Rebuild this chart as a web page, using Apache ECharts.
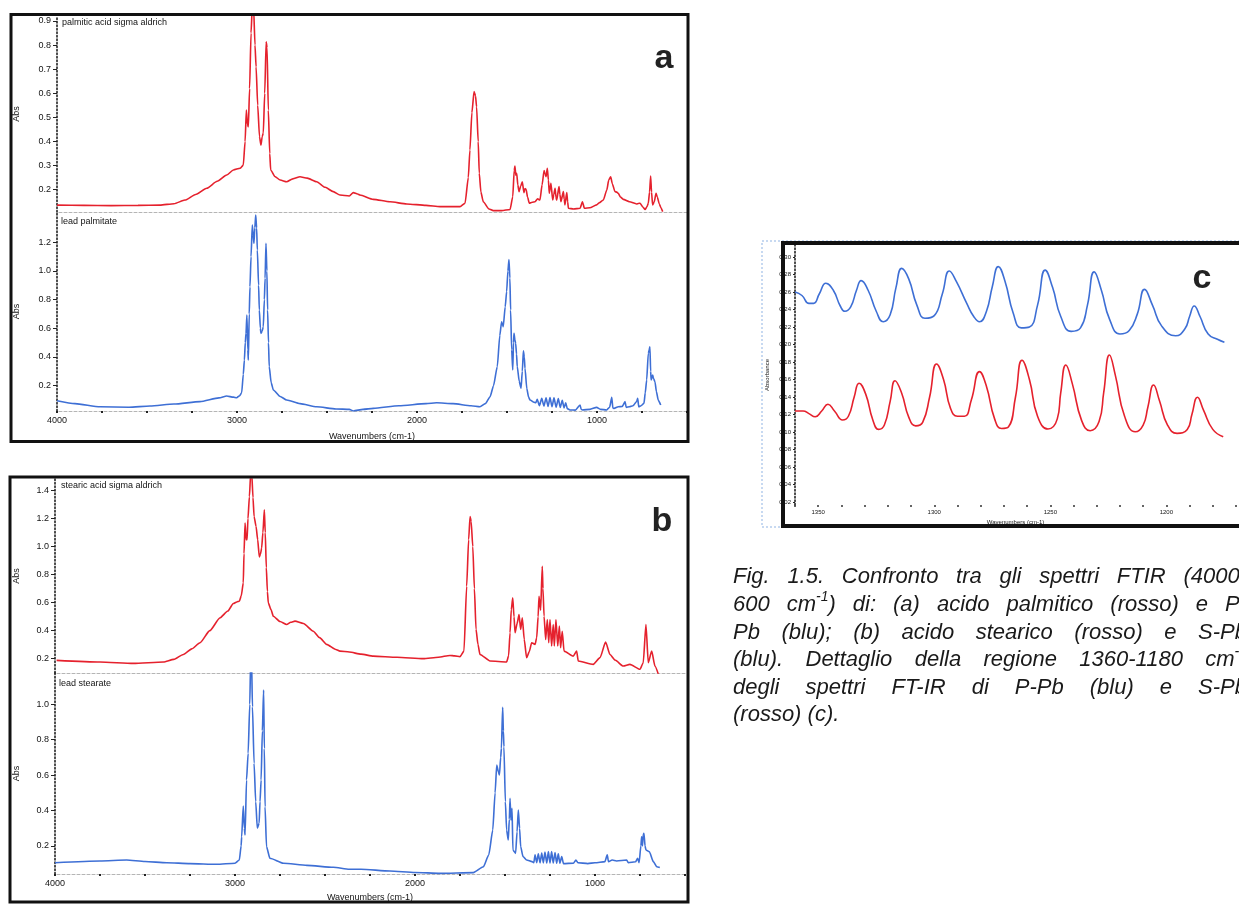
<!DOCTYPE html>
<html><head><meta charset="utf-8">
<script src="https://cdn.jsdelivr.net/npm/echarts@6/dist/echarts.min.js"></script>
<style>html,body{margin:0;padding:0;background:#fff}#chart{width:1239px;height:904px}</style>
</head><body><div id="chart"></div>
<script>
// ---------------- DATA (wavenumber cm-1, absorbance) ----------------
const palmiticAcid = [[4000,0.136],[3850,0.135],[3700,0.134],[3550,0.135],[3428,0.136],[3350,0.142],[3289,0.157],[3230,0.180],[3168,0.206],[3110,0.235],[3057,0.261],[3020,0.282],[2983,0.289],[2965,0.302],[2955,0.400],[2948,0.531],[2942,0.470],[2937,0.461],[2930,0.620],[2922,0.850],[2915,0.960],[2908,0.960],[2900,0.800],[2894,0.710],[2885,0.550],[2875,0.420],[2867,0.385],[2860,0.420],[2854,0.435],[2846,0.600],[2838,0.814],[2833,0.790],[2826,0.530],[2818,0.350],[2813,0.282],[2790,0.255],[2760,0.240],[2724,0.233],[2690,0.245],[2650,0.254],[2610,0.248],[2557,0.233],[2510,0.210],[2465,0.192],[2428,0.178],[2376,0.174],[2354,0.188],[2330,0.182],[2317,0.178],[2243,0.160],[2150,0.150],[2057,0.141],[1950,0.135],[1872,0.130],[1761,0.130],[1733,0.144],[1715,0.250],[1706,0.365],[1695,0.520],[1683,0.607],[1675,0.590],[1669,0.544],[1660,0.400],[1654,0.268],[1645,0.190],[1632,0.150],[1600,0.120],[1576,0.113],[1530,0.113],[1483,0.118],[1468,0.171],[1460,0.280],[1456,0.298],[1451,0.260],[1446,0.268],[1440,0.220],[1433,0.192],[1424,0.215],[1415,0.233],[1406,0.188],[1400,0.205],[1394,0.202],[1386,0.170],[1376,0.144],[1360,0.148],[1344,0.150],[1330,0.162],[1317,0.157],[1305,0.220],[1294,0.279],[1288,0.265],[1283,0.254],[1276,0.289],[1270,0.240],[1265,0.185],[1256,0.227],[1246,0.157],[1240,0.180],[1233,0.206],[1228,0.170],[1224,0.157],[1211,0.213],[1206,0.180],[1200,0.150],[1187,0.192],[1182,0.160],[1178,0.137],[1168,0.188],[1163,0.150],[1159,0.123],[1130,0.120],[1094,0.123],[1081,0.150],[1070,0.123],[1040,0.125],[1002,0.137],[987,0.146],[965,0.157],[945,0.200],[935,0.240],[924,0.254],[915,0.225],[900,0.192],[890,0.190],[882,0.185],[870,0.170],[854,0.160],[820,0.150],[780,0.141],[770,0.143],[761,0.144],[745,0.128],[733,0.118],[722,0.130],[715,0.144],[708,0.190],[702,0.257],[697,0.190],[691,0.137],[682,0.150],[672,0.185],[665,0.170],[654,0.141],[645,0.125],[635,0.109]];

const leadPalmitate = [[4000,0.095],[3900,0.075],[3761,0.053],[3600,0.050],[3483,0.058],[3350,0.072],[3206,0.089],[3100,0.115],[3057,0.128],[3020,0.120],[3002,0.116],[2985,0.130],[2974,0.151],[2965,0.280],[2959,0.379],[2954,0.500],[2950,0.565],[2945,0.693],[2940,0.450],[2937,0.379],[2932,0.700],[2928,0.890],[2922,1.100],[2915,1.320],[2910,1.250],[2906,1.193],[2901,1.300],[2896,1.390],[2891,1.300],[2887,1.146],[2880,0.900],[2876,0.728],[2870,0.600],[2867,0.565],[2860,0.580],[2854,0.611],[2848,0.800],[2844,0.949],[2839,1.193],[2834,1.000],[2830,0.728],[2825,0.500],[2821,0.333],[2810,0.220],[2798,0.170],[2760,0.125],[2724,0.100],[2650,0.075],[2557,0.053],[2450,0.038],[2376,0.035],[2354,0.024],[2300,0.035],[2243,0.042],[2100,0.060],[1950,0.075],[1891,0.081],[1800,0.075],[1700,0.060],[1650,0.053],[1620,0.075],[1594,0.123],[1575,0.200],[1554,0.333],[1540,0.550],[1530,0.646],[1524,0.620],[1521,0.611],[1510,0.750],[1502,0.856],[1495,1.000],[1489,1.080],[1484,0.950],[1480,0.728],[1474,0.450],[1468,0.310],[1464,0.500],[1461,0.565],[1456,0.520],[1452,0.496],[1447,0.420],[1443,0.333],[1432,0.230],[1422,0.182],[1415,0.300],[1409,0.444],[1404,0.400],[1400,0.321],[1390,0.180],[1380,0.120],[1372,0.100],[1350,0.085],[1340,0.081],[1332,0.105],[1320,0.060],[1307,0.112],[1295,0.058],[1283,0.115],[1272,0.055],[1261,0.117],[1250,0.053],[1239,0.115],[1227,0.050],[1215,0.110],[1204,0.048],[1193,0.098],[1183,0.045],[1174,0.080],[1165,0.040],[1150,0.031],[1120,0.030],[1094,0.065],[1088,0.035],[1081,0.031],[1040,0.035],[1002,0.049],[980,0.035],[946,0.031],[930,0.050],[918,0.119],[912,0.045],[905,0.042],[882,0.053],[860,0.055],[844,0.089],[838,0.049],[820,0.053],[800,0.060],[780,0.090],[774,0.112],[768,0.053],[755,0.060],[739,0.077],[732,0.150],[724,0.240],[715,0.426],[710,0.450],[706,0.472],[702,0.300],[699,0.240],[691,0.275],[686,0.250],[678,0.228],[670,0.160],[660,0.100],[646,0.065]];

const stearicAcid = [[3991,0.188],[3750,0.176],[3565,0.166],[3398,0.176],[3340,0.195],[3287,0.230],[3240,0.270],[3194,0.314],[3140,0.400],[3083,0.492],[3040,0.540],[3009,0.594],[2990,0.605],[2976,0.610],[2965,0.650],[2954,0.741],[2950,0.950],[2944,1.168],[2938,1.050],[2933,1.049],[2928,1.200],[2920,1.357],[2913,1.520],[2907,1.520],[2900,1.350],[2894,1.215],[2883,1.144],[2874,1.050],[2865,0.926],[2858,0.950],[2852,0.990],[2845,1.100],[2837,1.263],[2832,1.100],[2826,0.850],[2820,0.680],[2815,0.599],[2800,0.550],[2787,0.503],[2750,0.465],[2713,0.444],[2690,0.460],[2667,0.468],[2620,0.451],[2565,0.396],[2530,0.350],[2491,0.302],[2440,0.265],[2417,0.254],[2365,0.247],[2300,0.232],[2232,0.218],[2100,0.210],[1954,0.200],[1870,0.210],[1806,0.223],[1780,0.220],[1750,0.214],[1728,0.254],[1713,0.717],[1702,1.050],[1694,1.215],[1688,1.180],[1679,1.001],[1670,0.700],[1661,0.409],[1650,0.300],[1639,0.230],[1583,0.183],[1491,0.176],[1480,0.220],[1472,0.385],[1465,0.550],[1457,0.634],[1450,0.500],[1444,0.385],[1433,0.450],[1422,0.515],[1413,0.409],[1404,0.492],[1393,0.337],[1380,0.207],[1365,0.250],[1352,0.314],[1333,0.302],[1324,0.349],[1316,0.500],[1311,0.646],[1302,0.546],[1293,0.859],[1289,0.700],[1283,0.503],[1274,0.337],[1265,0.480],[1257,0.314],[1250,0.480],[1241,0.290],[1232,0.444],[1226,0.290],[1217,0.480],[1207,0.290],[1198,0.432],[1191,0.278],[1182,0.396],[1172,0.254],[1121,0.218],[1102,0.254],[1093,0.183],[1010,0.159],[972,0.207],[941,0.318],[917,0.230],[889,0.190],[843,0.147],[806,0.159],[750,0.124],[732,0.171],[717,0.444],[704,0.171],[685,0.254],[667,0.147],[648,0.088]];

const leadStearate = [[4000,0.105],[3750,0.115],[3602,0.120],[3500,0.112],[3380,0.105],[3250,0.100],[3102,0.096],[3000,0.102],[2976,0.120],[2966,0.200],[2963,0.252],[2954,0.425],[2948,0.300],[2944,0.262],[2936,0.572],[2927,0.723],[2918,1.000],[2913,1.250],[2908,1.250],[2903,0.986],[2894,0.667],[2885,0.450],[2876,0.300],[2866,0.328],[2861,0.450],[2855,0.572],[2848,0.850],[2841,1.080],[2837,0.750],[2833,0.421],[2825,0.196],[2806,0.130],[2731,0.102],[2600,0.090],[2454,0.079],[2365,0.068],[2300,0.068],[2139,0.058],[2000,0.050],[1861,0.045],[1676,0.049],[1620,0.082],[1590,0.150],[1568,0.290],[1555,0.500],[1546,0.657],[1537,0.620],[1531,0.601],[1524,0.700],[1520,0.751],[1513,0.983],[1509,0.850],[1506,0.760],[1498,0.450],[1491,0.290],[1482,0.233],[1476,0.350],[1472,0.469],[1467,0.346],[1461,0.412],[1456,0.177],[1441,0.158],[1433,0.280],[1426,0.403],[1419,0.300],[1413,0.196],[1400,0.140],[1380,0.120],[1350,0.111],[1340,0.105],[1333,0.150],[1324,0.105],[1315,0.155],[1305,0.104],[1296,0.160],[1287,0.104],[1278,0.165],[1268,0.103],[1259,0.168],[1250,0.103],[1241,0.168],[1232,0.103],[1222,0.163],[1213,0.102],[1204,0.155],[1195,0.102],[1185,0.140],[1175,0.100],[1120,0.102],[1106,0.120],[1095,0.105],[1040,0.100],[1000,0.105],[945,0.111],[932,0.149],[925,0.111],[905,0.120],[880,0.115],[824,0.120],[815,0.105],[775,0.110],[763,0.130],[755,0.105],[745,0.200],[741,0.252],[736,0.200],[733,0.260],[728,0.271],[722,0.200],[717,0.177],[698,0.167],[676,0.111],[657,0.082],[640,0.078]];

// panel c : detail 1360-1180 cm-1
const detailPPb = [[1360,0.260],[1357,0.256],[1354,0.247],[1352,0.247],[1349.5,0.258],[1346.7,0.270],[1343.5,0.262],[1340.5,0.244],[1338.5,0.238],[1336,0.243],[1333.5,0.262],[1331.5,0.273],[1328.5,0.262],[1325,0.238],[1322,0.226],[1319,0.234],[1316.5,0.265],[1314,0.287],[1311,0.275],[1307.5,0.245],[1304,0.230],[1300,0.233],[1296.5,0.258],[1293.5,0.284],[1290.5,0.272],[1286,0.247],[1283,0.232],[1280.5,0.226],[1277.5,0.238],[1275,0.266],[1272.4,0.289],[1269.5,0.272],[1266,0.236],[1262.5,0.219],[1259,0.220],[1255.5,0.245],[1252.2,0.285],[1249,0.265],[1245.5,0.232],[1241,0.215],[1237,0.219],[1234,0.245],[1231.1,0.283],[1228,0.262],[1224.5,0.229],[1220,0.212],[1216,0.216],[1212.5,0.235],[1209.4,0.263],[1206,0.245],[1202,0.221],[1196,0.210],[1192,0.218],[1190,0.232],[1188,0.244],[1185.5,0.232],[1182,0.212],[1178,0.206],[1175,0.2025]];
const detailSPb = [[1360,0.124],[1356.5,0.124],[1354,0.121],[1351.3,0.1175],[1348.5,0.124],[1345.8,0.1317],[1343,0.124],[1339.5,0.1137],[1337,0.118],[1334.5,0.140],[1332.4,0.1557],[1329.5,0.143],[1326.5,0.114],[1324,0.103],[1321.5,0.108],[1319,0.135],[1316.9,0.1586],[1314,0.144],[1311,0.117],[1308,0.107],[1305,0.111],[1302,0.140],[1299,0.1777],[1296,0.160],[1293,0.127],[1290,0.118],[1287,0.118],[1284,0.137],[1280.5,0.169],[1277.5,0.152],[1274,0.115],[1271,0.104],[1268,0.106],[1265,0.140],[1262.2,0.182],[1259,0.160],[1255.5,0.118],[1251,0.1034],[1247,0.115],[1245.5,0.145],[1243.3,0.1766],[1240.5,0.155],[1236.5,0.113],[1232.8,0.1015],[1229,0.112],[1227,0.145],[1224.5,0.188],[1222,0.165],[1218,0.118],[1213.4,0.1003],[1210,0.108],[1208,0.128],[1205.5,0.1537],[1203,0.136],[1199.5,0.108],[1195.4,0.0985],[1191,0.103],[1189,0.120],[1186.6,0.1397],[1184,0.125],[1180,0.103],[1175.5,0.0946]];

// tick labels
const ticksAUpper = [0.2,0.3,0.4,0.5,0.6,0.7,0.8,0.9];
const ticksALower = [0.2,0.4,0.6,0.8,1.0,1.2];
const ticksBUpper = [0.2,0.4,0.6,0.8,1.0,1.2,1.4];
const ticksBLower = [0.2,0.4,0.6,0.8,1.0];
const ticksC = [0.02,0.04,0.06,0.08,0.10,0.12,0.14,0.16,0.18,0.20,0.22,0.24,0.26,0.28,0.30];
const wavenumberLabels = [1000,2000,3000,4000];
const detailLabels = [1200,1250,1300,1350];

const seriesNames = ['palmitic acid sigma aldrich','lead palmitate','stearic acid sigma aldrich','lead stearate'];
const captionLines = [
  'Fig. 1.5. Confronto tra gli spettri FTIR (4000-',
  '600 cm^-1^) di: (a) acido palmitico (rosso) e P-',
  'Pb (blu); (b) acido stearico (rosso) e S-Pb',
  '(blu). Dettaglio della regione 1360-1180 cm^-1^',
  'degli spettri FT-IR di P-Pb (blu) e S-Pb',
  '(rosso) (c).'
];

// ---------------- STYLE / LAYOUT ----------------
const RED = '#e5212d', BLUE = '#3e6fd5', INK = '#141414';
const FONT = '"Liberation Sans", Arial, sans-serif';

function xMain(grid, withLabels, nameGap) {
  const ax = {
    gridIndex: grid, type: 'value', inverse: true, min: 500, max: 4000, interval: 250,
    axisLine: { show: true, onZero: false, lineStyle: { color: '#b5b5b5', type: [3, 2], width: 1 } },
    axisTick: { show: withLabels, length: 2, lineStyle: { color: '#222', width: 2 } },
    axisLabel: { show: withLabels, interval: 0, showMinLabel: true, showMaxLabel: true,
      formatter: v => wavenumberLabels.includes(v) ? String(v) : '',
      fontSize: 9, color: INK, margin: 5, fontFamily: FONT },
    splitLine: { show: false }
  };
  if (withLabels) {
    ax.name = 'Wavenumbers (cm-1)'; ax.nameLocation = 'middle'; ax.nameGap = nameGap;
    ax.nameTextStyle = { fontSize: 9, color: INK, fontFamily: FONT };
  }
  return ax;
}
function yMain(grid, min, max, ticks, gap) {
  return {
    gridIndex: grid, type: 'value', min: min, max: max,
    axisLine: { show: true, lineStyle: { color: '#111', type: [1.5, 2], width: 1.5 } },
    axisTick: { show: true, customValues: ticks, length: 4, lineStyle: { color: '#222', width: 1 } },
    axisLabel: { customValues: ticks, formatter: v => v.toFixed(1), fontSize: 9, color: INK, margin: 6, fontFamily: FONT },
    splitLine: { show: false },
    name: 'Abs', nameLocation: 'middle', nameGap: gap, nameRotate: 90,
    nameTextStyle: { fontSize: 9, color: INK, fontFamily: FONT }
  };
}
function line(xi, data, color) {
  return { type: 'line', xAxisIndex: xi, yAxisIndex: xi, data: data, symbol: 'none', showSymbol: false,
    smooth: 0.2, smoothMonotone: 'x', clip: true, silent: true,
    lineStyle: { color: color, width: 1.6 } };
}

// caption layout (justified lines, measured with canvas)
const measureCtx = document.createElement('canvas').getContext('2d');
const CAP_FONT = 'italic 22px ' + FONT, SUP_FONT = 'italic 14px ' + FONT;
function captionGraphics() {
  const out = [];
  const x0 = 733, right = 1247, ys = [577, 605, 633, 660, 688, 715];
  captionLines.forEach((ln, li) => {
    const words = ln.split(' ').map(w => {
      const parts = w.split('^').map((t, i) => ({ t: t, sup: i % 2 === 1 })).filter(p => p.t.length);
      let wsum = 0;
      parts.forEach(p => { measureCtx.font = p.sup ? SUP_FONT : CAP_FONT; p.w = measureCtx.measureText(p.t).width; wsum += p.w; });
      return { parts: parts, w: wsum };
    });
    measureCtx.font = CAP_FONT;
    const total = words.reduce((s, w) => s + w.w, 0);
    const justify = li < captionLines.length - 1;
    const gap = justify ? (right - x0 - total) / (words.length - 1) : measureCtx.measureText(' ').width;
    let x = x0;
    words.forEach(w => {
      let px = x;
      w.parts.forEach(p => {
        out.push({ type: 'text', x: px, y: ys[li] + (p.sup ? -8 : 0), silent: true,
          style: { text: p.t, font: p.sup ? SUP_FONT : CAP_FONT, fill: '#1a1a1a', align: 'left', verticalAlign: 'middle' } });
        px += p.w;
      });
      x += w.w + gap;
    });
  });
  return out;
}

const graphics = [
  // frames
  { type: 'rect', silent: true, z: 10, shape: { x: 11, y: 14.5, width: 677, height: 427 }, style: { fill: 'none', stroke: '#111', lineWidth: 3 } },
  { type: 'rect', silent: true, z: 10, shape: { x: 10, y: 477, width: 678, height: 425 }, style: { fill: 'none', stroke: '#111', lineWidth: 3 } },
  { type: 'rect', silent: true, z: 9, shape: { x: 762, y: 241, width: 520, height: 286 }, style: { fill: 'none', stroke: '#8fb3e3', lineWidth: 1, lineDash: [2, 2] } },
  { type: 'rect', silent: true, z: 10, shape: { x: 783, y: 243, width: 500, height: 283 }, style: { fill: 'none', stroke: '#111', lineWidth: 4 } },
  // panel letters
  { type: 'text', silent: true, x: 664, y: 59, style: { text: 'a', font: 'bold 34px ' + FONT, fill: '#222', align: 'center', verticalAlign: 'middle' } },
  { type: 'text', silent: true, x: 662, y: 522, style: { text: 'b', font: 'bold 34px ' + FONT, fill: '#222', align: 'center', verticalAlign: 'middle' } },
  { type: 'text', silent: true, x: 1202, y: 279, style: { text: 'c', font: 'bold 34px ' + FONT, fill: '#222', align: 'center', verticalAlign: 'middle' } },
  // spectrum names
  { type: 'text', silent: true, x: 62, y: 23, style: { text: seriesNames[0], font: '9px ' + FONT, fill: INK, verticalAlign: 'middle' } },
  { type: 'text', silent: true, x: 61, y: 222, style: { text: seriesNames[1], font: '9px ' + FONT, fill: INK, verticalAlign: 'middle' } },
  { type: 'text', silent: true, x: 61, y: 486, style: { text: seriesNames[2], font: '9px ' + FONT, fill: INK, verticalAlign: 'middle' } },
  { type: 'text', silent: true, x: 59, y: 684, style: { text: seriesNames[3], font: '9px ' + FONT, fill: INK, verticalAlign: 'middle' } }
].concat(captionGraphics());

const option = {
  animation: false,
  backgroundColor: '#fff',
  grid: [
    { left: 57, top: 16, width: 630, height: 196 },
    { left: 57, top: 212, width: 630, height: 199 },
    { left: 55, top: 479, width: 630, height: 194 },
    { left: 55, top: 673, width: 630, height: 201 },
    { left: 795, top: 245, width: 442, height: 260 }
  ],
  xAxis: [
    xMain(0, false), xMain(1, true, 21.5), xMain(2, false), xMain(3, true, 19.5),
    { gridIndex: 4, type: 'value', inverse: true, min: 1170, max: 1360, interval: 10,
      axisLine: { show: false },
      axisTick: { show: true, length: 2, lineStyle: { color: '#333', width: 1.5 } },
      axisLabel: { interval: 0, formatter: v => detailLabels.includes(v) ? String(v) : '', fontSize: 6, color: INK, margin: 4, fontFamily: FONT },
      splitLine: { show: false },
      name: 'Wavenumbers (cm-1)', nameLocation: 'middle', nameGap: 14,
      nameTextStyle: { fontSize: 6, color: INK, fontFamily: FONT } }
  ],
  yAxis: [
    yMain(0, 0.1075, 0.9207, ticksAUpper, 36),
    yMain(1, 0.0236, 1.411, ticksALower, 36),
    yMain(2, 0.0975, 1.483, ticksBUpper, 34),
    yMain(3, 0.0412, 1.177, ticksBLower, 34),
    { gridIndex: 4, type: 'value', min: 0.0166, max: 0.3137,
      axisLine: { show: true, lineStyle: { color: '#111', type: [1.5, 2], width: 1.5 } },
      axisTick: { show: true, customValues: ticksC, length: 2, lineStyle: { color: '#222', width: 1 } },
      axisLabel: { customValues: ticksC, formatter: v => v.toFixed(2), fontSize: 6, color: INK, margin: 4, fontFamily: FONT },
      splitLine: { show: false },
      name: 'Absorbance', nameLocation: 'middle', nameGap: 25, nameRotate: 90,
      nameTextStyle: { fontSize: 6, color: INK, fontFamily: FONT } }
  ],
  series: [
    line(0, palmiticAcid, RED),
    line(1, leadPalmitate, BLUE),
    line(2, stearicAcid, RED),
    line(3, leadStearate, BLUE),
    Object.assign(line(4, detailPPb, BLUE), { smooth: 0.5, smoothMonotone: null }),
    Object.assign(line(4, detailSPb, RED), { smooth: 0.5, smoothMonotone: null })
  ],
  graphic: graphics
};

const chart = echarts.init(document.getElementById('chart'), null, { renderer: 'canvas', width: 1239, height: 904 });
chart.setOption(option);
</script></body></html>
